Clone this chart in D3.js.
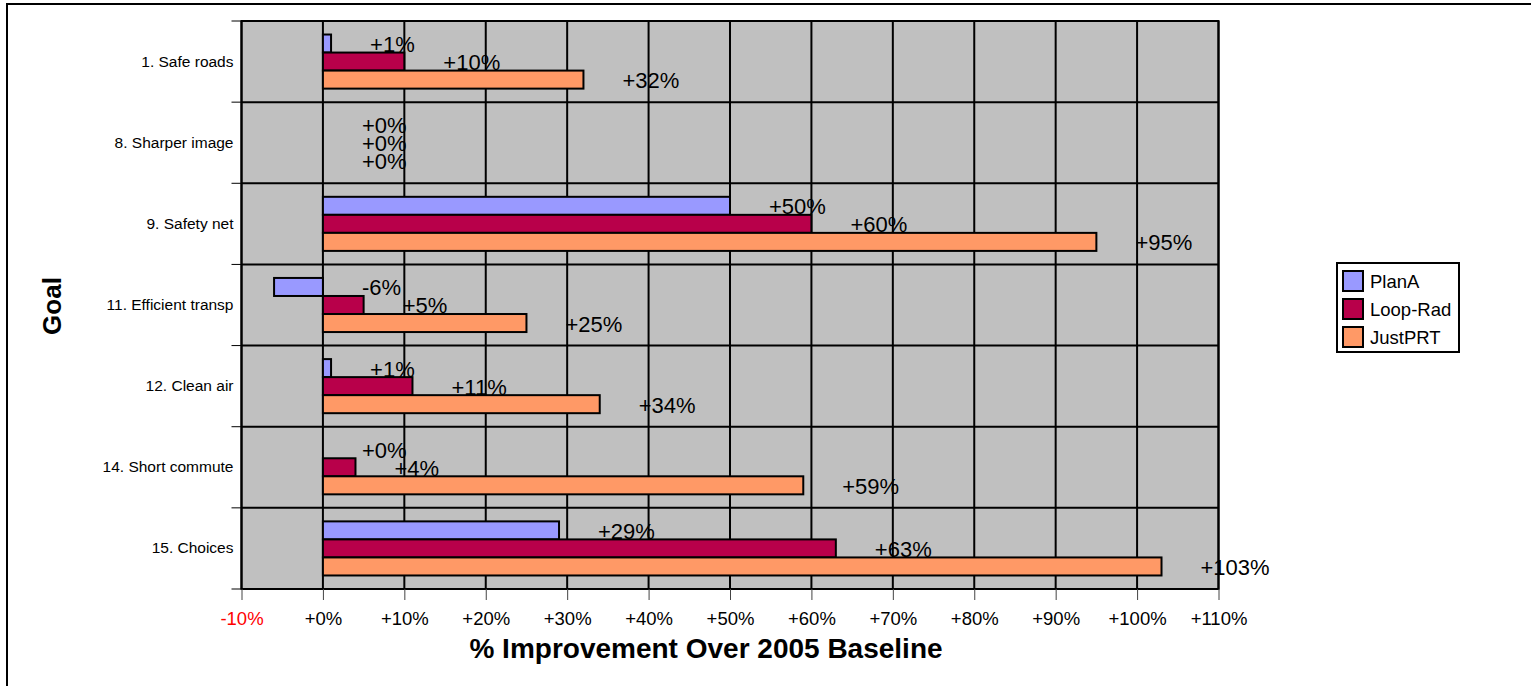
<!DOCTYPE html>
<html>
<head>
<meta charset="utf-8">
<script src="https://cdn.jsdelivr.net/npm/d3@7"></script>
<style>
  html, body { margin: 0; padding: 0; background: #fff; }
  svg { display: block; font-family: Arial, "Liberation Sans", sans-serif; }
</style>
</head>
<body>
<svg id="chart" width="1531" height="686"></svg>
<script>
// Goals (rows, top to bottom)
const categories = [
  "1. Safe roads",
  "8. Sharper image",
  "9. Safety net",
  "11. Efficient transp",
  "12. Clean air",
  "14. Short commute",
  "15. Choices"
];

// Plans compared against the 2005 baseline
const series = ["PlanA", "Loop-Rad", "JustPRT"];
const seriesColors = ["#9999FF", "#B8004A", "#FF9966"];

// % improvement per goal, one array per plan
const planA   = [1, 0, 50, -6, 1, 0, 29];
const loopRad = [10, 0, 60, 5, 11, 4, 63];
const justPRT = [32, 0, 95, 25, 34, 59, 103];

// x axis ticks
const xTicks = [-10, 0, 10, 20, 30, 40, 50, 60, 70, 80, 90, 100, 110];

const xTitle = "% Improvement Over 2005 Baseline";
const yTitle = "Goal";

const seriesValues = [planA, loopRad, justPRT];
const rows = categories.map((c, i) => ({
  goal: c,
  values: series.map((s, j) => ({ series: s, value: seriesValues[j][i], color: seriesColors[j] }))
}));

const pct = v => (v < 0 ? "-" : "+") + Math.abs(v) + "%";

const svg = d3.select("#chart");

// outer chart frame
svg.append("rect")
  .attr("x", 7).attr("y", 4)
  .attr("width", 1540).attr("height", 700)
  .attr("fill", "#fff").attr("stroke", "#000").attr("stroke-width", 2);

const plot = { left: 241.5, right: 1218.5, top: 21, bottom: 589 };

const x = d3.scaleLinear().domain([xTicks[0], xTicks[xTicks.length - 1]]).range([plot.left, plot.right]);
const y0 = d3.scaleBand().domain(categories).range([plot.top, plot.bottom]);
const y1 = d3.scaleBand().domain(series).range([0, y0.bandwidth()]).paddingInner(0).paddingOuter(0.75);

// plot background
svg.append("rect")
  .attr("x", plot.left).attr("y", plot.top)
  .attr("width", plot.right - plot.left).attr("height", plot.bottom - plot.top)
  .attr("fill", "#C0C0C0");

// vertical gridlines
svg.append("g").selectAll("line").data(xTicks).join("line")
  .attr("x1", d => x(d)).attr("x2", d => x(d))
  .attr("y1", plot.top).attr("y2", plot.bottom)
  .attr("stroke", "#000").attr("stroke-width", 2);

// horizontal gridlines at category boundaries
const bounds = categories.map(c => y0(c)).concat([plot.bottom]);
svg.append("g").selectAll("line").data(bounds).join("line")
  .attr("x1", plot.left).attr("x2", plot.right)
  .attr("y1", d => d).attr("y2", d => d)
  .attr("stroke", "#000").attr("stroke-width", 2);

// bars
const groups = svg.append("g").selectAll("g").data(rows).join("g")
  .attr("transform", d => `translate(0,${y0(d.goal)})`);

groups.selectAll("rect").data(d => d.values).join("rect")
  .attr("x", d => x(Math.min(0, d.value)))
  .attr("width", d => Math.abs(x(d.value) - x(0)))
  .attr("y", d => y1(d.series))
  .attr("height", y1.bandwidth())
  .attr("fill", d => d.color)
  .attr("stroke", "#000").attr("stroke-width", 2);

// plot border
svg.append("rect")
  .attr("x", plot.left).attr("y", plot.top)
  .attr("width", plot.right - plot.left).attr("height", plot.bottom - plot.top)
  .attr("fill", "none").attr("stroke", "#000").attr("stroke-width", 2);

// value labels
groups.selectAll("text.val").data(d => d.values).join("text")
  .attr("class", "val")
  .attr("x", d => x(Math.max(0, d.value)) + 39)
  .attr("y", d => y1(d.series) + y1.bandwidth() / 2 + 1)
  .attr("dominant-baseline", "central")
  .attr("font-size", 22)
  .attr("fill", "#000")
  .text(d => pct(d.value));

// x axis
const xAxis = d3.axisBottom(x).tickValues(xTicks).tickSize(11).tickPadding(12).tickFormat(pct);
const gx = svg.append("g").attr("transform", `translate(0,${plot.bottom})`).call(xAxis);
gx.select(".domain").remove();
gx.selectAll(".tick line").attr("stroke", "#444").attr("stroke-width", 1);
gx.selectAll(".tick text")
  .attr("font-size", 18.5)
  .attr("font-family", "Arial, 'Liberation Sans', sans-serif")
  .attr("fill", d => d < 0 ? "#FF0000" : "#000");

// y axis
const yAxis = d3.axisLeft(y0).tickSize(0).tickPadding(8);
const gy = svg.append("g").attr("transform", `translate(${plot.left},0)`).call(yAxis);
gy.select(".domain").remove();
gy.selectAll(".tick text")
  .attr("font-size", 15.5)
  .attr("font-family", "Arial, 'Liberation Sans', sans-serif")
  .attr("fill", "#000");

// y tick marks at category boundaries
svg.append("g").selectAll("line").data(bounds).join("line")
  .attr("x1", plot.left - 10).attr("x2", plot.left)
  .attr("y1", d => d).attr("y2", d => d)
  .attr("stroke", "#000").attr("stroke-width", 1);

// axis titles
svg.append("text")
  .attr("x", 706).attr("y", 658)
  .attr("text-anchor", "middle")
  .attr("font-size", 28).attr("font-weight", "bold")
  .text(xTitle);

svg.append("text")
  .attr("transform", "translate(61,306) rotate(-90)")
  .attr("text-anchor", "middle")
  .attr("font-size", 26).attr("font-weight", "bold")
  .text(yTitle);

// legend
const legend = svg.append("g");
legend.append("rect")
  .attr("x", 1337).attr("y", 263).attr("width", 122).attr("height", 89)
  .attr("fill", "#fff").attr("stroke", "#000").attr("stroke-width", 2);
const items = legend.selectAll("g").data(series).join("g")
  .attr("transform", (d, i) => `translate(1343,${271 + i * 28})`);
items.append("rect")
  .attr("width", 20).attr("height", 20)
  .attr("fill", (d, i) => seriesColors[i])
  .attr("stroke", "#000").attr("stroke-width", 2);
items.append("text")
  .attr("x", 27).attr("y", 10)
  .attr("dominant-baseline", "central")
  .attr("font-size", 18.5)
  .text(d => d);
</script>
</body>
</html>
